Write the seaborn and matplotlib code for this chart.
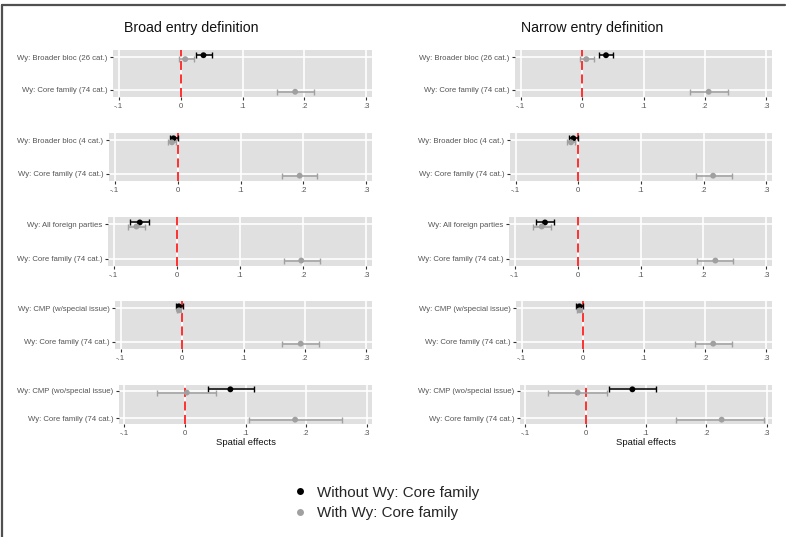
import numpy as np
import pandas as pd
import matplotlib
matplotlib.use("Agg")
import matplotlib.pyplot as plt
import seaborn as sns
from matplotlib.lines import Line2D

# Spatial-lag specifications (one per row) and the shared core-family term
spec_labels = [
    "Wy: Broader bloc (26 cat.)",
    "Wy: Broader bloc (4 cat.)",
    "Wy: All foreign parties",
    "Wy: CMP (w/special issue)",
    "Wy: CMP (wo/special issue)",
]
core_label = "Wy: Core family (74 cat.)"
column_titles = ["Broad entry definition", "Narrow entry definition"]
series_names = ["Without Wy: Core family", "With Wy: Core family"]
tick_values = [-0.1, 0.0, 0.1, 0.2, 0.3]
tick_labels = ["-.1", "0", ".1", ".2", ".3"]

# Broad entry definition
broad_without_est = [0.037, -0.0064, -0.0587, -0.005, 0.075]
broad_without_lo = [0.025, -0.012, -0.0735, -0.009, 0.0375]
broad_without_hi = [0.050, 0.001, -0.0444, 0.001, 0.114]
broad_with_est = [0.0076, -0.009, -0.064, -0.005, 0.003]
broad_with_lo = [-0.003, -0.016, -0.0778, -0.008, -0.047]
broad_with_hi = [0.021, -0.0027, -0.0497, -0.001, 0.051]
broad_core_est = [0.185, 0.194, 0.197, 0.193, 0.182]
broad_core_lo = [0.155, 0.166, 0.169, 0.163, 0.105]
broad_core_hi = [0.216, 0.222, 0.226, 0.222, 0.260]

# Narrow entry definition
narrow_without_est = [0.039, -0.008, -0.0518, -0.0054, 0.0774]
narrow_without_lo = [0.028, -0.015, -0.066, -0.011, 0.0387]
narrow_without_hi = [0.051, 0.0, -0.037, 0.001, 0.116]
narrow_with_est = [0.007, -0.0117, -0.057, -0.005, -0.0133]
narrow_with_lo = [-0.004, -0.0185, -0.0713, -0.009, -0.063]
narrow_with_hi = [0.020, -0.005, -0.0428, -0.001, 0.036]
narrow_core_est = [0.206, 0.215, 0.219, 0.213, 0.2255]
narrow_core_lo = [0.176, 0.187, 0.190, 0.184, 0.150]
narrow_core_hi = [0.238, 0.245, 0.247, 0.243, 0.296]

columns = [
    dict(w_est=broad_without_est, w_lo=broad_without_lo, w_hi=broad_without_hi,
         x_est=broad_with_est, x_lo=broad_with_lo, x_hi=broad_with_hi,
         c_est=broad_core_est, c_lo=broad_core_lo, c_hi=broad_core_hi),
    dict(w_est=narrow_without_est, w_lo=narrow_without_lo, w_hi=narrow_without_hi,
         x_est=narrow_with_est, x_lo=narrow_with_lo, x_hi=narrow_with_hi,
         c_est=narrow_core_est, c_lo=narrow_core_lo, c_hi=narrow_core_hi),
]

BLACK = "#000000"
GREY = "#a0a0a0"
palette = {series_names[0]: BLACK, series_names[1]: GREY}

sns.set_theme(style="darkgrid")
plt.rcParams["font.family"] = ["Liberation Sans", "DejaVu Sans"]

W, H = 787, 537
fig = plt.figure(figsize=(W / 100, H / 100), dpi=100)
fig.patch.set_facecolor("white")


def rect(left, top, right, bottom):
    return [left / W, 1 - bottom / H, (right - left) / W, (bottom - top) / H]


row_tb = [(50, 97), (133, 181), (217, 266), (301, 349), (385, 424)]
col_left = [[113, 109, 108, 115, 119], [515, 510, 509, 516, 520]]
col_right = [372, 772]
OFF = 0.06

for c, data in enumerate(columns):
    for r in range(5):
        top, bottom = row_tb[r]
        ax = fig.add_axes(rect(col_left[c][r], top, col_right[c], bottom))
        ax.set_facecolor("#e0e0e0")
        ax.set_axisbelow(True)
        ax.grid(True, color="white", lw=1.2)
        for s in ax.spines.values():
            s.set_visible(False)

        df = pd.DataFrame({
            "term": [spec_labels[r], spec_labels[r], core_label],
            "model": [series_names[0], series_names[1], series_names[1]],
            "est": [data["w_est"][r], data["x_est"][r], data["c_est"][r]],
            "lo": [data["w_lo"][r], data["x_lo"][r], data["c_lo"][r]],
            "hi": [data["w_hi"][r], data["x_hi"][r], data["c_hi"][r]],
        })
        df["ypos"] = [0 - OFF, 0 + OFF, 1 + OFF]

        ax.axvline(0, color="#ff2020", lw=1.3, dashes=(5, 2.5), zorder=2)

        for _, row in df.iterrows():
            col = palette[row["model"]]
            ax.errorbar(row["est"], row["ypos"],
                        xerr=[[row["est"] - row["lo"]], [row["hi"] - row["est"]]],
                        fmt="none", ecolor=col, elinewidth=1.1, capsize=2,
                        capthick=1.0, zorder=3)
        sns.scatterplot(data=df, x="est", y="ypos", hue="model", palette=palette,
                        s=18, edgecolor="none", legend=False, ax=ax, zorder=4)

        ax.set_xlim(-0.109, 0.309)
        ax.set_ylim(1 + 0.22, -0.22)
        ax.set_yticks([0, 1])
        ax.set_yticklabels([spec_labels[r], core_label])
        ax.set_xticks(tick_values)
        ax.set_xticklabels(tick_labels)
        ax.tick_params(axis="both", length=2.5, width=0.8, color="#333333",
                       labelsize=5.6, labelcolor="#555555", pad=1.5)
        ax.tick_params(axis="both", which="both", bottom=True, left=True)
        ax.set_ylabel("")
        if r == 4:
            ax.set_xlabel("Spatial effects", fontsize=6.8, color="#111111", labelpad=1)
        else:
            ax.set_xlabel("")

# Column titles
fig.text(191 / W, 1 - 28 / H, column_titles[0], ha="center", va="center",
         fontsize=10.2, color="#111111")
fig.text(592 / W, 1 - 28 / H, column_titles[1], ha="center", va="center",
         fontsize=10.2, color="#111111")

# Legend
handles = [Line2D([0], [0], marker="o", color="none", markerfacecolor=palette[n],
                  markeredgecolor="none", markersize=5) for n in series_names]
fig.legend(handles, series_names, loc="center left",
           bbox_to_anchor=(294 / W, 1 - 503 / H), frameon=False, fontsize=10.9,
           handlelength=0.8, handletextpad=0.75, labelspacing=0.45,
           borderaxespad=0, borderpad=0)

# Outer frame (top and left edges)
fig.add_artist(Line2D([2 / W, 785 / W], [1 - 5 / H, 1 - 5 / H], color="#505050",
                      lw=1.6, transform=fig.transFigure))
fig.add_artist(Line2D([2 / W, 2 / W], [1 - 5 / H, 0], color="#505050",
                      lw=1.6, transform=fig.transFigure))

fig.savefig("out.png", dpi=100)
